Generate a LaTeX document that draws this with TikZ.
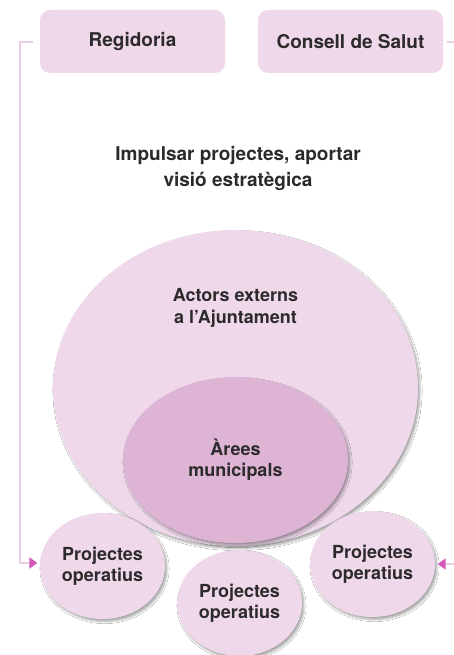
\documentclass[tikz,border=0pt]{standalone}
\usepackage{fontspec}
\setmainfont{TeX Gyre Heros}
\usetikzlibrary{shapes.geometric,arrows.meta,shadows.blur}
\definecolor{lightpink}{RGB}{238,216,234}
\definecolor{midpink}{RGB}{221,180,212}
\definecolor{linepink}{RGB}{235,205,228}
\definecolor{arrowmag}{RGB}{212,88,184}
\definecolor{txt}{RGB}{45,42,44}
\tikzset{
  box/.style={draw=none,fill=lightpink,rounded corners=10pt,minimum width=185pt,minimum height=63pt,
    font=\fontsize{19}{23}\selectfont\bfseries,text=txt},
  bubble/.style={ellipse,draw=none,fill=lightpink,inner sep=0pt,align=center,text=txt,
    blur shadow={shadow xshift=2pt,shadow yshift=-2.5pt,shadow blur steps=8,shadow opacity=35}},
  small/.style={bubble,minimum width=125pt,minimum height=106pt,font=\fontsize{18}{21}\selectfont\bfseries},
  lbl/.style={align=center,text=txt},
  conn/.style={draw=linepink,line width=2pt},
  tip/.style={-{Triangle[color=arrowmag,length=8pt,width=11pt]},shorten >=2.5pt}
}
\begin{document}
\begin{tikzpicture}[x=1pt,y=-1pt]
\useasboundingbox (0,0) rectangle (454,655);
\fill[white] (0,0) rectangle (454,655);
% top boxes
\node[box] (reg) at (132.5,41.5) {Regidoria};
\node[box] (cons) at (350.5,41.5) {Consell de Salut};
% main text
\node[lbl,font=\fontsize{19}{26}\selectfont\bfseries] (imp) at (238,168) {Impulsar projectes, aportar\\visió estratègica};
% ellipses
\node[bubble,minimum width=365pt,minimum height=316pt] (actors) at (235.5,388) {};
\node[lbl,font=\fontsize{18}{22}\selectfont\bfseries] (actorstxt) at (235.5,308) {Actors externs\\a l’Ajuntament};
\node[bubble,fill=midpink,minimum width=225pt,minimum height=166pt,font=\fontsize{18}{21}\selectfont\bfseries] (arees) at (235.5,460) {Àrees\\municipals};
% small circles
\node[small] (leftc) at (102.5,566) {Projectes\\operatius};
\node[small] (midc) at (239.5,603) {Projectes\\operatius};
\node[small] (rightc) at (372.5,564) {Projectes\\operatius};
% connectors
\coordinate (lstart) at (33,42);
\coordinate (lcorner) at (20,42);
\coordinate (rstart) at (447,42);
\coordinate (rcorner) at (462,42);
\draw[conn,tip] (lstart) -- (lcorner) |- ([yshift=3pt]leftc.west);
\draw[conn,tip] (rstart) -- (rcorner) |- (rightc.east);
\end{tikzpicture}
\end{document}
